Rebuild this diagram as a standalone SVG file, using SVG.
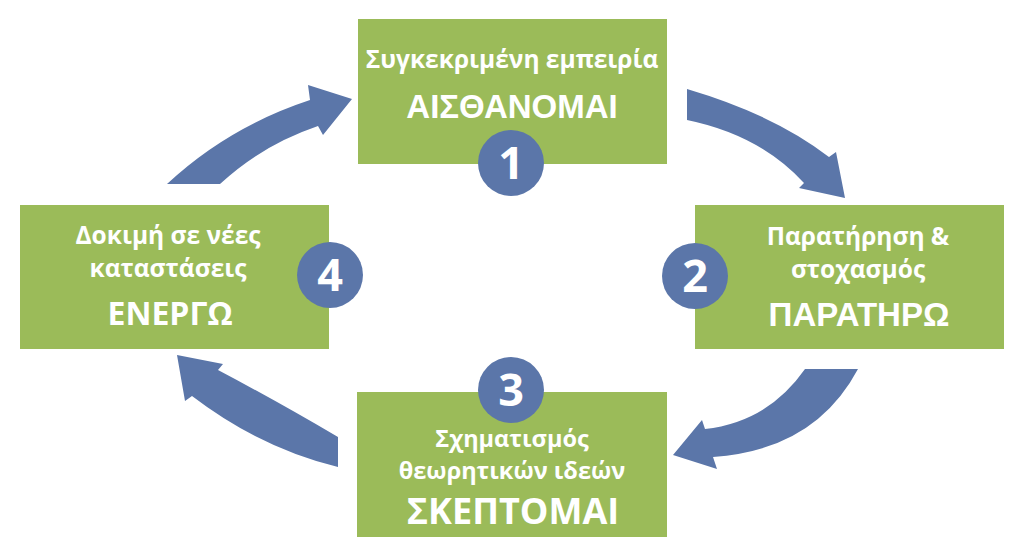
<svg xmlns="http://www.w3.org/2000/svg" width="1024" height="556" viewBox="0 0 1024 556">
<style>
.box{fill:#9BBB59}
.arr{fill:#5B76A9}
.circ{fill:#5B76A9}
.t{font-family:"Open Sans","Noto Sans",sans-serif;font-weight:bold;fill:#fff;text-anchor:middle}
.s{font-size:24.5px}
.s3{font-size:23.5px}
.b{font-size:32px}
.c{font-size:36px}
.a{font-family:"Liberation Sans",Arial,sans-serif;font-size:33px}
.n{font-family:"Open Sans","Noto Sans",sans-serif;font-weight:bold;fill:#fff;text-anchor:middle;font-size:45px}
</style>
<rect width="1024" height="556" fill="#fff"/>
<g id="connectors">
<path class="arr" d="M687,89 Q775,115 829,157 L836,152 L845,198 L799,188 L804,183 Q760,135 687,120 Z"/>
<path class="arr" d="M805,369 Q768,422 705,429 L702,420 L673,455 L717,469 L713,457 Q815,450 858,369 Z"/>
<path class="arr" d="M338,437 Q275,400 218,370 L223,364 L177,355 L185,401 L192,396 Q260,448 338,467 Z"/>
<path class="arr" d="M167,184 Q228,127 310,100 L308,85 L352,99 L323,135 L318,126 Q262,145 220,184 Z"/>
</g>
<g id="node1">
<rect class="box" x="358" y="19" width="309" height="145"/>
<text class="t s" x="512" y="68">Συγκεκριμένη εμπειρία</text>
<text class="t a" x="512" y="118">ΑΙΣΘΑΝΟΜΑΙ</text>
<circle class="circ" cx="511" cy="163" r="33"/>
<text class="n" x="511" y="179">1</text>
</g>
<g id="node2">
<rect class="box" x="695" y="205" width="309" height="144"/>
<text class="t s" x="858" y="245">Παρατήρηση &amp;</text>
<text class="t s" x="858" y="278">στοχασμός</text>
<text class="t a" x="859" y="326">ΠΑΡΑΤΗΡΩ</text>
<circle class="circ" cx="695" cy="276" r="33"/>
<text class="n" x="695" y="292">2</text>
</g>
<g id="node3">
<rect class="box" x="357" y="392" width="310" height="145"/>
<circle class="circ" cx="511" cy="390" r="33"/>
<text class="n" x="511" y="406">3</text>
<text class="t s3" x="512" y="447">Σχηματισμός</text>
<text class="t s3" x="512" y="479">θεωρητικών ιδεών</text>
<text class="t c" x="513" y="524">ΣΚΕΠΤΟΜΑΙ</text>
</g>
<g id="node4">
<rect class="box" x="20" y="205" width="309" height="144"/>
<text class="t s" x="168" y="244">Δοκιμή σε νέες</text>
<text class="t s" x="168" y="277">καταστάσεις</text>
<text class="t b" x="170" y="325">ΕΝΕΡΓΩ</text>
<circle class="circ" cx="330" cy="275" r="33"/>
<text class="n" x="330" y="291">4</text>
</g>
</svg>
